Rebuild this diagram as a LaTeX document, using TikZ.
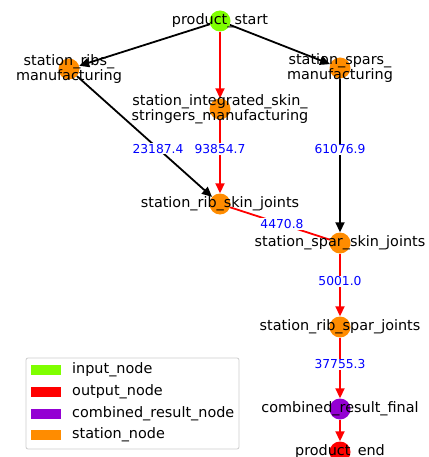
\documentclass[tikz,border=0pt]{standalone}
\usepackage{fontspec}
\setmainfont{DejaVu Sans}
\usepackage{tikz}
\usetikzlibrary{arrows.meta}
\usetikzlibrary{positioning}

\definecolor{inputcol}{HTML}{7FFF00}
\definecolor{outputcol}{HTML}{FF0000}
\definecolor{combinedcol}{HTML}{9400D3}
\definecolor{stationcol}{HTML}{FF8C00}

\begin{document}
\begin{tikzpicture}[
                x=1pt, y=-1pt,
                dot/.style={
                        circle,
                        inner sep=0pt,
                        minimum size=21pt
                    },
                namenode/.style={
                        align=center,
                        inner sep=0pt,
                        font=\fontsize{14.4}{15.4}\selectfont
                    },
                flow/.style={
                        line width=1.8pt,
                        -{Triangle[length=10pt,width=9pt]}
                    },
                weight/.style={
                        fill=white,
                        text=blue,
                        inner sep=1pt,
                        font=\fontsize{12.3}{13}\selectfont
                    },
                patch/.style={
                        rectangle,
                        minimum width=30pt,
                        minimum height=10pt,
                        inner sep=0pt
                    },
                legtext/.style={
                        anchor=west,
                        inner sep=0pt,
                        font=\fontsize{14.4}{15.4}\selectfont
                    }
            ]

            \useasboundingbox (0,0) rectangle (428,457);
            \clip (0,0) rectangle (428,457);

            % Nodes with colors
            \node[dot, fill=inputcol] (start) at (220,21) {};
            \node[dot, fill=stationcol] (ribs) at (69,69) {};
            \node[dot, fill=stationcol] (spars) at (340,68) {};
            \node[dot, fill=stationcol] (integ) at (220,109) {};
            \node[dot, fill=stationcol] (ribskin) at (220,204) {};
            \node[dot, fill=stationcol] (sparskin) at (340,243) {};
            \node[dot, fill=stationcol] (ribspar) at (340,327) {};
            \node[dot, fill=combinedcol] (combined) at (340,409) {};
            \node[dot, fill=outputcol] (end) at (340,452) {};

            % Edges with their weights
            \draw[flow] (start) -- (ribs);
            \draw[flow] (start) -- (spars);
            \draw[flow, red] (start) -- (integ);
            \draw[flow] (ribs) -- (ribskin) node[weight, pos=0.6] (w1) {23187.4};
            \draw[flow, red] (integ) -- (ribskin) node[weight, pos=0.4] (w2) {93854.7};
            \draw[flow] (spars) -- (sparskin) node[weight, pos=0.46] (w3) {61076.9};
            \draw[line width=1.8pt, red] (ribskin) -- (sparskin) node[weight, pos=0.52] (w4) {4470.8};
            \draw[flow, red] (sparskin) -- (ribspar) node[weight, pos=0.44] (w5) {5001.0};
            \draw[flow, red] (ribspar) -- (combined) node[weight, pos=0.44] (w6) {37755.3};
            \draw[flow, red] (combined) -- (end);

            % Names on top of the nodes
            \node[namenode] (startname) at (start) {product\_start};
            \node[namenode] (ribsname) at (ribs) {station\_ribs\_\\manufacturing};
            \node[namenode] (sparsname) at (spars) {station\_spars\_\\manufacturing};
            \node[namenode] (integname) at (integ) {station\_integrated\_skin\_\\stringers\_manufacturing};
            \node[namenode] (ribskinname) at (ribskin) {station\_rib\_skin\_joints};
            \node[namenode] (sparskinname) at (sparskin) {station\_spar\_skin\_joints};
            \node[namenode] (ribsparname) at (ribspar) {station\_rib\_spar\_joints};
            \node[namenode] (combinedname) at (combined) {combined\_result\_final};
            \node[namenode] (endname) at (end) {product\_end};

            % Legend
            \draw[black!20, fill=white, rounded corners=2pt, line width=0.8pt] (26,358) rectangle (239,449);
            \node[patch, fill=inputcol] (p1) at (46,370) {};
            \node[patch, fill=outputcol] (p2) at (46,392) {};
            \node[patch, fill=combinedcol] (p3) at (46,414) {};
            \node[patch, fill=stationcol] (p4) at (46,435) {};
            \node[legtext] (t1) at (72,370) {input\_node};
            \node[legtext] (t2) at (72,392) {output\_node};
            \node[legtext] (t3) at (72,414) {combined\_result\_node};
            \node[legtext] (t4) at (72,435) {station\_node};

        \end{tikzpicture}
\end{document}
